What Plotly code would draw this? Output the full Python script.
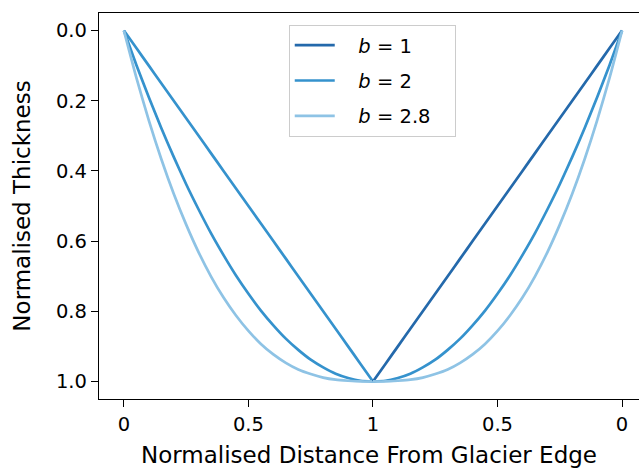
import plotly.graph_objects as go

# Normalised distance from glacier edge (0 = edge, 1 = centre)
distance = [0.0, 0.05, 0.1, 0.15, 0.2, 0.25, 0.3, 0.35, 0.4, 0.45, 0.5,
            0.55, 0.6, 0.65, 0.7, 0.75, 0.8, 0.85, 0.9, 0.95, 1.0]

# Normalised thickness
thick_b1 = [0.0, 0.05, 0.1, 0.15, 0.2, 0.25, 0.3, 0.35, 0.4, 0.45, 0.5,
            0.55, 0.6, 0.65, 0.7, 0.75, 0.8, 0.85, 0.9, 0.95, 1.0]
thick_b2 = [0.0, 0.098, 0.19, 0.278, 0.36, 0.438, 0.51, 0.578, 0.64, 0.698, 0.75,
            0.798, 0.84, 0.878, 0.91, 0.938, 0.96, 0.978, 0.99, 0.998, 1.0]
thick_b28 = [0.0, 0.134, 0.256, 0.366, 0.465, 0.553, 0.632, 0.701, 0.761, 0.812, 0.856,
             0.893, 0.923, 0.947, 0.966, 0.979, 0.989, 0.995, 0.998, 1.0, 1.0]

labels = ["<i>b</i> = 1", "<i>b</i> = 2", "<i>b</i> = 2.8"]
tick_vals = [-1, -0.5, 0, 0.5, 1]
tick_text = ["0", "0.5", "1", "0.5", "0"]
ytick_vals = [0, 0.2, 0.4, 0.6, 0.8, 1.0]
ytick_text = ["0.0", "0.2", "0.4", "0.6", "0.8", "1.0"]

DARK = "#2469ab"
MID = "#3592cd"
LIGHT = "#8ec3e5"

# positions: left half runs from edge (-1) to centre (0), right half mirrors it
x_left = [d - 1 for d in distance]
x_right = [1 - d for d in distance]

fig = go.Figure()
series = [(thick_b1, DARK, MID, labels[0]),
          (thick_b2, MID, MID, labels[1]),
          (thick_b28, LIGHT, LIGHT, labels[2])]
for vals, col_r, col_l, name in series:
    fig.add_trace(go.Scatter(x=x_left, y=vals, mode="lines",
                             line=dict(color=col_l, width=2.7, shape="spline", smoothing=0.6),
                             showlegend=False, hoverinfo="skip"))
for i, (vals, col_r, col_l, name) in enumerate(series):
    fig.add_trace(go.Scatter(x=x_right, y=vals, mode="lines",
                             name="&nbsp;" * 3 + name + "&nbsp;" * 3,
                             legendgroup="g%d" % i,
                             line=dict(color=col_r, width=2.7, shape="spline", smoothing=0.6)))

font = "DejaVu Sans"
fig.update_layout(
    width=639, height=468,
    margin=dict(l=99, r=0, t=13, b=69),
    paper_bgcolor="white", plot_bgcolor="white",
    font=dict(family=font, size=19.5, color="black"),
    showlegend=True,
    legend=dict(x=0.506, y=0.969, xanchor="center", yanchor="top",
                bordercolor="#cccccc", borderwidth=1, bgcolor="rgba(255,255,255,0.8)",
                font=dict(size=19.5), itemwidth=40, tracegroupgap=7),
    xaxis=dict(range=[-1.1, 1.068], tickvals=tick_vals, ticktext=tick_text,
               automargin=False,
               showgrid=False, zeroline=False, showline=True, linecolor="black",
               linewidth=1.3, mirror=True, ticks="outside", ticklen=7, tickwidth=1.3,
               tickcolor="black",
               title=dict(text="Normalised Distance From Glacier Edge", standoff=17)),
    yaxis=dict(range=[1.05, -0.05], tickvals=ytick_vals, ticktext=ytick_text,
               automargin=False,
               showgrid=False, zeroline=False, showline=True, linecolor="black",
               linewidth=1.3, mirror=False, ticks="outside", ticklen=7, tickwidth=1.3,
               tickcolor="black",
               title=dict(text="Normalised Thickness", standoff=18)),
)

fig.write_html("out.html", config={"displayModeBar": False},
               post_script="document.body.style.margin='0';document.body.style.overflow='hidden';")
